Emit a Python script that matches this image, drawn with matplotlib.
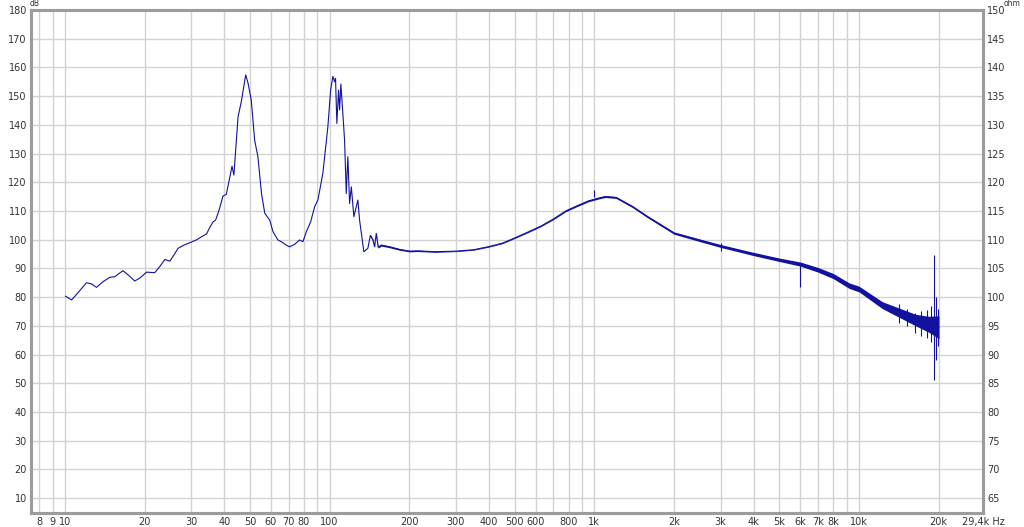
import matplotlib
matplotlib.use("Agg")
import matplotlib.pyplot as plt
import numpy as np

# Impedance / response trace (dB)
freq = [10.06, 10.6, 11.2, 12.07, 12.6, 13.17, 13.9, 14.78, 15.44, 16.0, 16.58, 17.4, 18.37,
        19.3, 20.35, 21.85, 22.9, 23.86, 24.92, 25.8, 26.77, 28.0, 29.2, 31.38, 32.8,
        34.28, 35.3, 36.28, 37.1, 38.3, 39.55,
        40.2, 40.73, 42.8, 43.5, 45.1, 46.4, 48.2, 49.2, 50.6, 52.1,
        53.6, 55.3, 56.9, 59.4, 61.1, 63.8, 65.7, 68.6, 70.6, 73.8,
        77.0, 79.3, 81.7, 84.8, 87.8, 90.3, 94.3, 98.5, 100.9, 102.9,
        104.4, 105.3, 106.5, 108.1, 109.1, 110.3, 112.2, 113.9, 115.6, 117.2,
        119.0, 120.8, 123.5, 127.9, 129.8, 134.7, 139.5, 142.5, 145.7, 147.8,
        150.1, 152.5, 156.7, 168.5, 183.8, 200.4, 215.4, 250, 300, 350,
        400, 450, 500, 560, 630, 700, 780, 860, 950, 1050,
        1100, 1208, 1395, 1589, 2000, 2500, 3000, 4000, 5000, 6000,
        7000, 8000, 9170, 10000, 12240, 14150, 16360, 18380, 19200, 20040]
db = [80.3, 79.0, 81.5, 85.0, 84.6, 83.4, 85.3, 86.9, 87.1, 88.2, 89.2, 87.6, 85.6,
      86.8, 88.7, 88.5, 90.8, 93.1, 92.5, 94.6, 97.0, 98.0, 98.7, 99.9, 101.0,
      102.0, 104.3, 106.2, 106.8, 110.5, 115.2,
      115.5, 115.8, 125.6, 122.5, 142.8, 148.1, 157.4, 154.5, 148.6, 134.7,
      128.9, 116.1, 109.2, 106.8, 102.8, 99.9, 99.3, 98.1, 97.5, 98.4,
      99.9, 99.3, 102.8, 106.2, 111.5, 113.8, 123.1, 139.3, 152.1, 156.9,
      155.0, 156.2, 140.5, 152.1, 145.2, 154.2, 144.0, 134.7, 116.1, 128.9,
      112.6, 118.4, 108.0, 113.8, 106.8, 95.8, 97.0, 101.5, 99.9, 97.6,
      102.2, 97.4, 98.1, 97.5, 96.6, 96.0, 96.1, 95.8, 96.0, 96.5,
      97.6, 98.8, 100.6, 102.6, 104.8, 107.2, 110.0, 111.8, 113.5, 114.6,
      115.0, 114.7, 111.5, 108.0, 102.3, 99.8, 97.8, 95.0, 93.0, 91.5,
      89.5, 87.3, 84.0, 82.8, 77.2, 74.6, 72.0, 70.5, 70.0, 69.5]

# thickness of the noisy band (half-width in dB)
band_freq = [140, 300, 600, 1000, 2000, 3000, 5000, 8000, 10000, 12240, 14150, 16360, 18380, 20040]
band_half = [0.35, 0.15, 0.2, 0.3, 0.4, 0.5, 0.6, 0.9, 1.0, 1.2, 1.6, 2.0, 2.8, 4.0]

# isolated spikes: frequency, bottom, top
spike_freq = [1000, 3000, 6000, 14150, 15220, 16200, 17140, 18120, 18660, 19210, 19600, 19950]
spike_lo = [115.0, 96.0, 83.5, 71.0, 70.0, 67.5, 66.5, 65.8, 64.5, 51.1, 58.0, 63.0]
spike_hi = [117.3, 98.8, 91.5, 77.5, 76.0, 74.5, 75.0, 75.5, 77.0, 94.6, 80.0, 76.0]

tick_vals = [8, 9, 10, 20, 30, 40, 50, 60, 70, 80, 100, 200, 300, 400, 500, 600, 800,
             1000, 2000, 3000, 4000, 5000, 6000, 7000, 8000, 10000, 20000, 29400]
tick_labels = ["8", "9", "10", "20", "30", "40", "50", "60", "70", "80", "100", "200",
               "300", "400", "500", "600", "800", "1k", "2k", "3k", "4k", "5k", "6k",
               "7k", "8k", "10k", "20k", "29,4k Hz"]
grid_vals = [8, 9, 10, 20, 30, 40, 50, 60, 70, 80, 90, 100, 200, 300, 400, 500, 600, 700,
             800, 900, 1000, 2000, 3000, 4000, 5000, 6000, 7000, 8000, 9000, 10000, 20000]

DB_MIN, DB_MAX = 4.8, 180
X_MIN, X_MAX = 7.45, 29400
LINE = "#12129e"

fig = plt.figure(figsize=(10.24, 5.27), dpi=100)
ax = fig.add_axes([0.0303, 0.0266, 0.9297, 0.9544])
ax.set_xscale("log")
ax.set_xlim(X_MIN, X_MAX)
ax.set_ylim(DB_MIN, DB_MAX)

for g in grid_vals:
    ax.axvline(g, color="#d2d2d2", lw=1.0, zorder=0)
for y in range(10, 180, 10):
    ax.axhline(y, color="#d2d2d2", lw=1.0, zorder=0)

# noisy band in the upper frequencies
bf = np.array(freq)
half = np.interp(np.log10(bf), np.log10(band_freq), band_half, left=0, right=band_half[-1])
mask = bf >= 140
ax.fill_between(bf[mask], (np.array(db) - half)[mask], (np.array(db) + half)[mask],
                color=LINE, lw=0, zorder=2)
ax.plot(freq, db, color=LINE, lw=0.8, zorder=3)
ax.vlines(spike_freq, spike_lo, spike_hi, color=LINE, lw=0.8, zorder=3)

ax.set_xticks(tick_vals)
ax.set_xticklabels(tick_labels)
ax.xaxis.set_minor_locator(matplotlib.ticker.NullLocator())
ax.set_yticks(range(10, 190, 10))
ax.tick_params(axis="both", length=0, labelsize=7, colors="#333333", pad=3)

ax2 = ax.twinx()
ax2.set_ylim(60 + DB_MIN * 0.5, 60 + DB_MAX * 0.5)
ax2.set_yticks(range(65, 155, 5))
ax2.tick_params(axis="y", length=0, labelsize=7, colors="#333333", pad=3)

for a in (ax, ax2):
    for s in a.spines.values():
        s.set_color("#9c9c9c")
        s.set_linewidth(2.2)

# unit labels above the axes corners, kept clear of the top tick labels
fig.text(30 / 1024, 1 - 8.5 / 527, "dB", fontsize=5.5, color="#333333", ha="left", va="bottom")
fig.text(1004 / 1024, 1 - 8.5 / 527, "ohm", fontsize=5.5, color="#333333", ha="left", va="bottom")

fig.savefig("out.png", dpi=100)
